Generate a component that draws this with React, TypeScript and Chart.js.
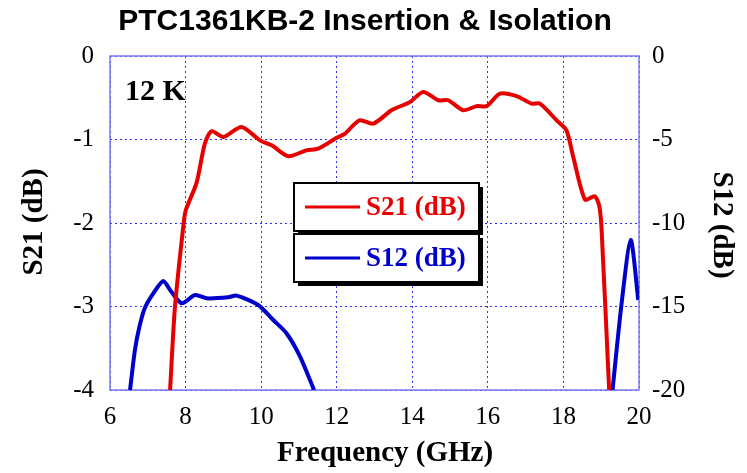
import React, { useEffect, useRef } from "react";
import { Chart, registerables } from "chart.js";

Chart.register(...registerables);

const titleText = "PTC1361KB-2 Insertion & Isolation";
const xTitle = "Frequency (GHz)";
const leftTitle = "S21 (dB)";
const rightTitle = "S12 (dB)";
const tempLabel = "12 K";

const s21Freq = [7.59, 7.72, 7.96, 8.01, 8.29, 8.51, 8.69, 9.0, 9.48, 9.97, 10.28, 10.72, 11.2, 11.51, 12.0, 12.22, 12.6, 12.97, 13.45, 13.94, 14.29, 14.69, 14.95, 15.35, 15.7, 15.97, 16.32, 16.76, 17.16, 17.38, 17.82, 18.08, 18.26, 18.57, 18.83, 18.95, 19.01, 19.21];
const s21Values = [-4.0, -3.0, -1.96, -1.84, -1.52, -1.05, -0.9, -0.97, -0.85, -1.01, -1.07, -1.2, -1.13, -1.11, -0.98, -0.93, -0.77, -0.81, -0.65, -0.55, -0.43, -0.53, -0.53, -0.65, -0.6, -0.6, -0.45, -0.48, -0.57, -0.57, -0.77, -0.89, -1.21, -1.72, -1.68, -1.8, -2.08, -4.0];

const s12Freq = [6.53, 6.66, 6.78, 6.92, 7.15, 7.41, 7.59, 7.9, 8.25, 8.56, 9.13, 9.35, 9.92, 10.32, 10.67, 11.03, 11.4, 15.0, 19.3, 19.54, 19.78, 19.98];
const s12Values: (number | null)[] = [-20, -17.6, -16.2, -15.1, -14.2, -13.47, -14.01, -14.81, -14.31, -14.51, -14.45, -14.35, -14.91, -15.81, -16.6, -18.0, -20, null, -20, -14.81, -11.02, -14.61];

const xTicks = [6, 8, 10, 12, 14, 16, 18, 20];
const leftTicks = [0, -1, -2, -3, -4];
const rightTicks = [0, -5, -10, -15, -20];

const RED = "#e60000";
const BLUE = "#0000cc";
const SERIF = "'Liberation Serif', 'Times New Roman', serif";
const SANS = "'Liberation Sans', Arial, sans-serif";

const decor = {
  id: "decor",
  beforeDatasetsDraw(chart: any) {
    const { ctx, chartArea: a } = chart;
    ctx.save();
    ctx.strokeStyle = "#7a7aee";
    ctx.lineWidth = 1.5;
    ctx.strokeRect(a.left, a.top, a.right - a.left, a.bottom - a.top);
    ctx.restore();
  },
  afterDraw(chart: any) {
    const { ctx } = chart;
    ctx.save();
    ctx.fillStyle = "#000";
    ctx.textAlign = "center";
    ctx.textBaseline = "middle";
    ctx.font = `bold 30px ${SANS}`;
    ctx.fillText(titleText, 365, 22);
    ctx.font = `bold 29px ${SERIF}`;
    ctx.fillText(xTitle, 385, 454);
    ctx.save();
    ctx.translate(35, 222);
    ctx.rotate(-Math.PI / 2);
    ctx.fillText(leftTitle, 0, 0);
    ctx.restore();
    ctx.save();
    ctx.translate(721, 225);
    ctx.rotate(Math.PI / 2);
    ctx.fillText(rightTitle, 0, 0);
    ctx.restore();
    ctx.textAlign = "left";
    ctx.font = `bold 30px ${SERIF}`;
    ctx.fillText(tempLabel, 125, 92);

    const boxes = [
      { top: 183, bottom: 231, color: RED, label: "S21 (dB)" },
      { top: 234, bottom: 282, color: BLUE, label: "S12 (dB)" },
    ];
    const left = 294;
    const right = 479;
    for (const b of boxes) {
      ctx.fillStyle = "#000";
      ctx.fillRect(left + 4, b.top + 4, right - left, b.bottom - b.top);
      ctx.fillStyle = "#fff";
      ctx.fillRect(left, b.top, right - left, b.bottom - b.top);
      ctx.strokeStyle = "#000";
      ctx.lineWidth = 2;
      ctx.strokeRect(left, b.top, right - left, b.bottom - b.top);
      const cy = (b.top + b.bottom) / 2;
      ctx.strokeStyle = b.color;
      ctx.lineWidth = 3;
      ctx.beginPath();
      ctx.moveTo(305, cy);
      ctx.lineTo(360, cy);
      ctx.stroke();
      ctx.fillStyle = b.color;
      ctx.font = `bold 27px ${SERIF}`;
      ctx.textBaseline = "middle";
      ctx.fillText(b.label, 366, cy + 1);
    }
    ctx.restore();
  },
};

export default function App() {
  const ref = useRef<HTMLCanvasElement>(null);
  useEffect(() => {
    const s21 = s21Freq.map((x, i) => ({ x, y: s21Values[i] }));
    const s12 = s12Freq.map((x, i) => ({ x, y: s12Values[i] }));
    const chart = new Chart(ref.current!, {
      type: "line",
      data: {
        datasets: [
          { label: "S21 (dB)", data: s21 as any, borderColor: RED, borderWidth: 4, pointRadius: 0, tension: 0.25, yAxisID: "y" },
          { label: "S12 (dB)", data: s12 as any, borderColor: BLUE, borderWidth: 4, pointRadius: 0, tension: 0.25, yAxisID: "y2", spanGaps: false },
        ],
      },
      options: {
        animation: false,
        responsive: false,
        layout: { padding: { top: 56, left: 0, right: 0, bottom: 0 } },
        plugins: { legend: { display: false }, title: { display: false }, tooltip: { enabled: false } },
        scales: {
          x: {
            type: "linear",
            min: 6,
            max: 20,
            afterBuildTicks: (s: any) => { s.ticks = xTicks.map((v) => ({ value: v })); },
            afterFit: (s: any) => { s.height = 83; },
            ticks: { color: "#000", font: { family: SERIF, size: 25 }, padding: 12, maxRotation: 0 },
            grid: { color: "#3030ff", lineWidth: 1, drawTicks: false },
            border: { display: false, dash: [2, 3] },
          },
          y: {
            position: "left",
            min: -4,
            max: 0,
            afterBuildTicks: (s: any) => { s.ticks = leftTicks.map((v) => ({ value: v })); },
            afterFit: (s: any) => { s.width = 110; },
            ticks: { color: "#000", font: { family: SERIF, size: 25 }, padding: 16 },
            grid: { color: "#3030ff", lineWidth: 1, drawTicks: false },
            border: { display: false, dash: [2, 3] },
          },
          y2: {
            position: "right",
            min: -20,
            max: 0,
            afterBuildTicks: (s: any) => { s.ticks = rightTicks.map((v) => ({ value: v })); },
            afterFit: (s: any) => { s.width = 108; },
            ticks: { color: "#000", font: { family: SERIF, size: 25 }, padding: 13 },
            grid: { display: false, drawTicks: false },
            border: { display: false },
          },
        },
      },
      plugins: [decor],
    });
    return () => chart.destroy();
  }, []);
  return (
    <div style={{ position: "fixed", left: 0, top: 0, width: 747, height: 473, background: "#fff" }}>
      <canvas ref={ref} width={747} height={473} style={{ width: 747, height: 473 }} />
    </div>
  );
}
